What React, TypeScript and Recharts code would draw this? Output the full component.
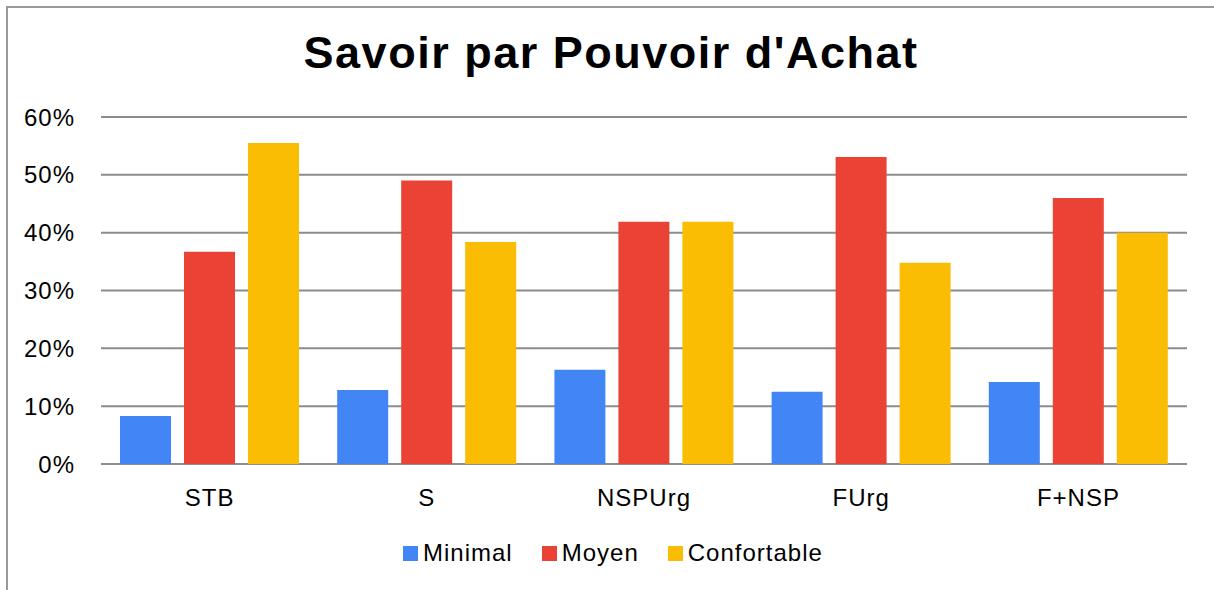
import { BarChart, Bar, XAxis, YAxis, CartesianGrid } from 'recharts';

const CATEGORIES = ['STB', 'S', 'NSPUrg', 'FUrg', 'F+NSP'];
const MINIMAL = [0.083, 0.128, 0.163, 0.125, 0.142];
const MOYEN = [0.367, 0.49, 0.419, 0.531, 0.46];
const CONFORTABLE = [0.555, 0.384, 0.419, 0.348, 0.4];
const Y_TICKS = [0, 0.1, 0.2, 0.3, 0.4, 0.5, 0.6];

const SERIES = [
    { key: 'Minimal', color: '#4285F4' },
    { key: 'Moyen', color: '#EA4335' },
    { key: 'Confortable', color: '#FBBC04' },
];

const data = CATEGORIES.map((name, i) => ({
    name,
    Minimal: MINIMAL[i],
    Moyen: MOYEN[i],
    Confortable: CONFORTABLE[i],
}));

const FONT = '"Liberation Sans", Arial, sans-serif';

const tickStyle = {
    fill: '#000',
    fontSize: 24,
    fontFamily: FONT,
    letterSpacing: 1,
};

const App = () => {
    return (
        <div
            style={{
                position: 'absolute',
                left: 0,
                top: 0,
                width: 1214,
                height: 590,
                background: '#fff',
                overflow: 'hidden',
            }}
        >
            <div
                style={{
                    position: 'absolute',
                    left: 6,
                    top: 6,
                    width: 1300,
                    height: 700,
                    borderLeft: '2px solid #9a9a9a',
                    borderTop: '2px solid #9a9a9a',
                }}
            />
            <div
                style={{
                    position: 'absolute',
                    left: 0,
                    top: 27,
                    width: 1222,
                    textAlign: 'center',
                    fontFamily: FONT,
                    fontWeight: 'bold',
                    fontSize: 45,
                    letterSpacing: 1.5,
                    color: '#000',
                }}
            >
                Savoir par Pouvoir d'Achat
            </div>
            <div style={{ position: 'absolute', left: 0, top: 0 }}>
                <BarChart
                    width={1214}
                    height={590}
                    data={data}
                    margin={{ top: 117, right: 27, left: 0, bottom: 66 }}
                    barCategoryGap={19}
                    barGap={13}
                >
                    <CartesianGrid
                        vertical={false}
                        stroke="#8c8c8c"
                        strokeWidth={2}
                    />
                    <XAxis
                        dataKey="name"
                        axisLine={false}
                        tickLine={false}
                        tickSize={0}
                        tickMargin={25}
                        height={60}
                        tick={tickStyle}
                    />
                    <YAxis
                        width={101}
                        domain={[0, 0.6]}
                        ticks={Y_TICKS}
                        axisLine={false}
                        tickLine={false}
                        tickSize={0}
                        tickMargin={26}
                        tickFormatter={(v: number) => `${Math.round(v * 100)}%`}
                        tick={tickStyle}
                    />
                    {SERIES.map((s) => (
                        <Bar
                            key={s.key}
                            dataKey={s.key}
                            fill={s.color}
                            isAnimationActive={false}
                        />
                    ))}
                </BarChart>
            </div>
            <div
                style={{
                    position: 'absolute',
                    left: 403,
                    top: 538,
                    display: 'flex',
                    alignItems: 'center',
                    fontFamily: FONT,
                    fontSize: 24,
                    letterSpacing: 1,
                    color: '#000',
                    lineHeight: '30px',
                }}
            >
                {SERIES.map((s) => (
                    <div
                        key={s.key}
                        style={{ display: 'flex', alignItems: 'center', marginRight: 29 }}
                    >
                        <span
                            style={{
                                width: 15,
                                height: 15,
                                background: s.color,
                                display: 'inline-block',
                                marginRight: 5,
                            }}
                        />
                        <span>{s.key}</span>
                    </div>
                ))}
            </div>
        </div>
    );
};

export default App;
